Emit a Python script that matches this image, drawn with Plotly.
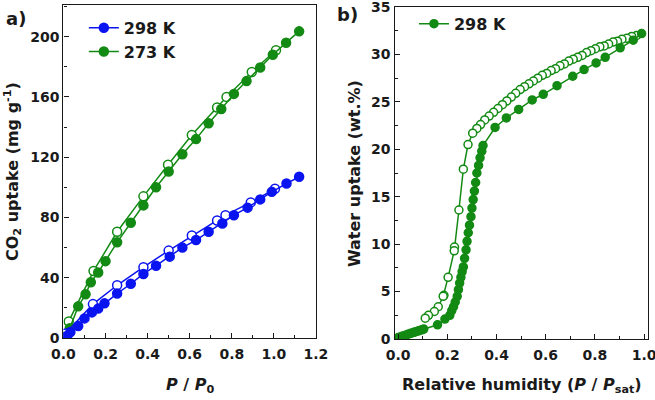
import plotly.graph_objects as go

# ---------------- data: panel a (CO2) ----------------
co2_298_ads_p = [0.005, 0.018, 0.033, 0.07, 0.10, 0.135, 0.165, 0.195, 0.255, 0.32, 0.38, 0.44, 0.505,
                 0.565, 0.63, 0.69, 0.755, 0.81, 0.875, 0.935, 0.99, 1.06, 1.12]
co2_298_ads_v = [0.5, 1.5, 4.0, 8.0, 13.0, 17.0, 19.5, 23.0, 29.5, 36.0, 42.5, 48.0, 54.0,
                 60.0, 65.0, 70.5, 76.0, 81.5, 86.5, 92.0, 97.0, 102.5, 107.0]
co2_298_des_p = [1.005, 0.89, 0.77, 0.73, 0.61, 0.50, 0.38, 0.255, 0.14, 0.01]
co2_298_des_v = [99.0, 90.0, 81.5, 78.0, 68.0, 58.0, 47.0, 35.0, 22.5, 3.0]

co2_273_ads_p = [0.005, 0.018, 0.03, 0.07, 0.105, 0.13, 0.165, 0.20, 0.255, 0.32, 0.38, 0.44, 0.50,
                 0.565, 0.63, 0.69, 0.75, 0.81, 0.87, 0.935, 0.995, 1.058, 1.12]
co2_273_ads_v = [1.0, 2.0, 6.5, 21.0, 29.0, 37.0, 43.5, 51.0, 63.5, 76.5, 88.0, 100.0, 110.5,
                 122.0, 132.0, 142.5, 152.0, 162.0, 170.5, 179.5, 188.0, 196.0, 203.5]
co2_273_des_p = [1.01, 0.895, 0.775, 0.73, 0.61, 0.497, 0.38, 0.255, 0.143, 0.025]
co2_273_des_v = [191.0, 176.5, 160.0, 153.0, 134.7, 115.0, 94.0, 70.5, 44.5, 11.0]

# ---------------- data: panel b (water) ----------------
h2o_ads_p = [0.0, 0.008, 0.016, 0.024, 0.032, 0.04, 0.048, 0.056, 0.064, 0.072, 0.08, 0.088, 0.096, 0.104,
             0.16, 0.19, 0.21, 0.218, 0.225, 0.232, 0.24, 0.245, 0.25, 0.255, 0.26, 0.265, 0.27, 0.276,
             0.28, 0.285, 0.29, 0.296, 0.30, 0.305, 0.31, 0.315, 0.32, 0.327, 0.333, 0.34, 0.345,
             0.394, 0.44, 0.49, 0.545, 0.59, 0.646, 0.71, 0.756, 0.805, 0.842, 0.903, 0.956, 0.99]
h2o_ads_v = [0.15, 0.2, 0.28, 0.35, 0.42, 0.5, 0.57, 0.64, 0.7, 0.77, 0.84, 0.9, 0.97, 1.05,
             1.5, 2.1, 2.5, 3.0, 3.4, 3.9, 4.5, 5.2, 5.9, 6.5, 7.1, 7.6, 8.5, 9.4,
             10.3, 11.2, 12.0, 12.9, 13.8, 14.7, 15.6, 16.5, 17.5, 18.3, 19.1, 19.8, 20.4,
             22.3, 23.3, 24.2, 25.2, 25.8, 26.7, 27.7, 28.4, 29.1, 29.7, 30.7, 31.5, 32.2]
h2o_des_p = [0.97, 0.95, 0.93, 0.91, 0.892, 0.874, 0.856, 0.838, 0.82, 0.802, 0.784, 0.766, 0.748, 0.73,
             0.712, 0.694, 0.676, 0.658, 0.64, 0.622, 0.604, 0.586, 0.568, 0.55, 0.532, 0.514, 0.496,
             0.478, 0.46, 0.442, 0.424, 0.406, 0.388, 0.37, 0.352, 0.335, 0.32, 0.303, 0.284, 0.265,
             0.247, 0.229, 0.228, 0.203, 0.186, 0.183, 0.163, 0.147, 0.123, 0.11]
h2o_des_v = [32.0, 31.9, 31.7, 31.6, 31.4, 31.3, 31.1, 30.9, 30.8, 30.6, 30.4, 30.2, 29.9, 29.7,
             29.5, 29.3, 29.0, 28.8, 28.5, 28.3, 28.0, 27.8, 27.5, 27.2, 26.9, 26.6, 26.3,
             25.9, 25.5, 25.1, 24.7, 24.3, 23.9, 23.5, 23.1, 22.6, 22.2, 21.7, 20.5, 17.9,
             13.6, 9.7, 9.3, 6.5, 4.6, 4.5, 3.4, 2.9, 2.5, 2.2]

BLUE = "#0a14f0"
GREEN = "#138a13"
FONT = "DejaVu Sans"
INK = "#1a1a1a"

fig = go.Figure()

def add(x, y, color, filled, xa, ya, size, name=None, legend=None, rank=None):
    fig.add_trace(go.Scatter(
        x=x, y=y, mode="lines+markers", xaxis=xa, yaxis=ya,
        line=dict(color=color, width=1.5),
        marker=dict(symbol="circle", size=size,
                    color=color if filled else "white",
                    line=dict(color=color, width=1.5)),
        name=name or "", showlegend=name is not None,
        legend=legend or "legend", legendrank=rank or 1000,
    ))

# panel a
add(co2_273_des_p, co2_273_des_v, GREEN, False, "x", "y", 9)
add(co2_273_ads_p, co2_273_ads_v, GREEN, True, "x", "y", 9, "273 K", "legend", 2)
add(co2_298_des_p, co2_298_des_v, BLUE, False, "x", "y", 9)
add(co2_298_ads_p, co2_298_ads_v, BLUE, True, "x", "y", 9, "298 K", "legend", 1)
# panel b
add(h2o_des_p, h2o_des_v, GREEN, False, "x2", "y2", 8)
add(h2o_ads_p, h2o_ads_v, GREEN, True, "x2", "y2", 8, "298 K", "legend2", 1)

axis_common = dict(
    showline=True, linecolor=INK, linewidth=1.2, mirror=True,
    ticks="inside", ticklen=5, tickwidth=1.2, tickcolor=INK,
    showgrid=False, zeroline=False, automargin=False, ticklabeloverflow="allow",
    tickfont=dict(family=FONT, size=14, color=INK, weight="bold"),
)
minor_common = dict(ticks="inside", ticklen=3, tickcolor=INK, tickwidth=1.2)

fig.update_layout(
    width=655, height=400,
    margin=dict(l=0, r=0, t=0, b=0, autoexpand=False),
    paper_bgcolor="white", plot_bgcolor="white",
    xaxis=dict(domain=[0.0969, 0.4824], range=[0, 1.2], dtick=0.2, tickformat=".1f",
               ticklabelstandoff=3,
               minor=dict(dtick=0.1, **minor_common), anchor="y", **axis_common),
    yaxis=dict(domain=[0.155, 0.9875], range=[0, 221], dtick=40,
               minor=dict(dtick=20, **minor_common), anchor="x", **axis_common),
    xaxis2=dict(domain=[0.6023, 0.9889], range=[-0.015, 1.015], tickvals=[0, 0.2, 0.4, 0.6, 0.8, 1.0],
                tickformat=".1f", ticklabelstandoff=3,
                minor=dict(tickvals=[0.1, 0.3, 0.5, 0.7, 0.9], **minor_common),
                anchor="y2", **axis_common),
    yaxis2=dict(domain=[0.1525, 0.9825], range=[0, 35], dtick=5,
                minor=dict(dtick=2.5, **minor_common), anchor="x2", **axis_common),
    legend=dict(x=0.128, y=0.973, xanchor="left", yanchor="top", bgcolor="rgba(0,0,0,0)",
                font=dict(family=FONT, size=16, color=INK, weight="bold"),
                tracegroupgap=0, itemwidth=30),
    legend2=dict(x=0.632, y=0.983, xanchor="left", yanchor="top", bgcolor="rgba(0,0,0,0)",
                 font=dict(family=FONT, size=16, color=INK, weight="bold"), itemwidth=30),
    showlegend=True,
)

tf = dict(family=FONT, size=16, color=INK, weight="bold")
def note(text, x, y, font, angle=0):
    fig.add_annotation(text=text, xref="paper", yref="paper", x=x / 655, y=1 - y / 400,
                       xanchor="center", yanchor="middle", textangle=angle,
                       showarrow=False, font=font)

note("CO<sub>2</sub> uptake (mg g<sup>-1</sup>)", 13, 172, tf, -90)
note("<i>P</i> / <i>P</i><sub>0</sub>", 190, 385, tf)
note("Water uptake (wt.%)", 354, 173, tf, -90)
note("Relative humidity (<i>P</i> / <i>P</i><sub>sat</sub>)", 522, 385, tf)
pf = dict(family=FONT, size=18, color=INK, weight="bold")
note("a)", 16, 19, pf)
note("b)", 347, 15, pf)

fig.write_html("out.html", config={"displayModeBar": False},
               post_script="document.body.style.margin='0px';")
